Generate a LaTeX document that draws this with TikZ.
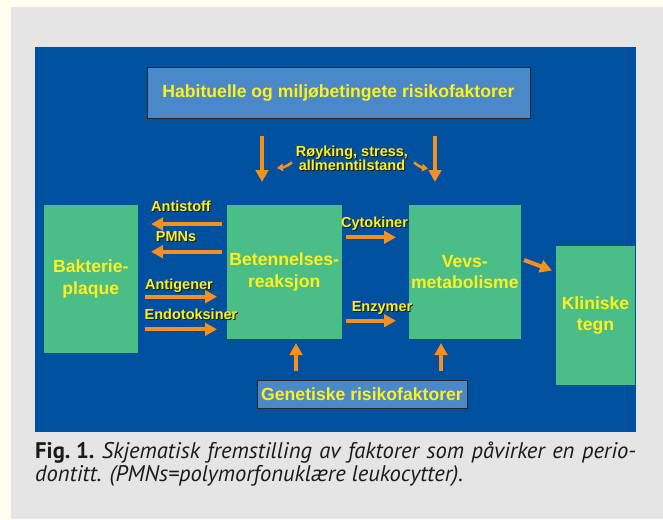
\documentclass[tikz,border=0pt]{standalone}
\usepackage{fontspec}
\setmainfont{Liberation Sans}
\newfontfamily\capfont{PT Sans}
\usetikzlibrary{arrows.meta,calc}
\definecolor{bgyel}{HTML}{FFFFF0}
\definecolor{panel}{HTML}{E5E5E5}
\definecolor{navy}{HTML}{0050A0}
\definecolor{boxgreen}{HTML}{4BBD87}
\definecolor{boxblue}{HTML}{4A88C8}
\definecolor{txtyel}{HTML}{FFF01E}
\definecolor{arrorange}{HTML}{F7901E}
\definecolor{shad}{HTML}{1A1A1A}
\definecolor{captxt}{HTML}{1A1A1A}
\newcommand\sh[1]{\makebox[0pt][l]{\hspace{1pt}\raisebox{-1pt}{\textcolor{shad}{#1}}}#1}
\begin{document}
\begin{tikzpicture}[x=1pt,y=-1pt,
  bigtxt/.style={text=txtyel, font=\fontsize{17.6}{21.6}\selectfont\bfseries, align=center},
  gbox/.style={fill=boxgreen, inner sep=0pt, outer sep=0pt, bigtxt},
  bbox/.style={fill=boxblue, draw=black!85, line width=0.8pt, inner sep=0pt, outer sep=0pt, bigtxt},
  lbl/.style={text=txtyel, font=\fontsize{14.5}{14}\selectfont\bfseries, inner sep=0pt, anchor=base, align=center},
  arr/.style={draw=arrorange, line width=4pt, -{Triangle[length=12pt,width=12.5pt]}},
  sarr/.style={draw=arrorange, line width=2.6pt, -{Triangle[length=6pt,width=7.5pt]}},
  captxtstyle/.style={anchor=base west, inner sep=0pt, text=captxt, font=\capfont\fontsize{22.6}{26}\selectfont}]
\useasboundingbox (0,0) rectangle (663,519);
\fill[bgyel] (0,0) rectangle (663,519);
\fill[panel] (11,7) rectangle (663,519);
\fill[navy] (35,47) rectangle (636,432);

% boxes
\node[bbox, minimum width=383, minimum height=51] (hab) at (338.5,92.5) {Habituelle og miljøbetingete risikofaktorer};
\node[bbox, minimum width=210, minimum height=28] (gen) at (362,394) {Genetiske risikofaktorer};
\node[gbox, minimum width=93.7, minimum height=147.7] (bak) at (90.85,278.85) {Bakterie-\\plaque};
\node[gbox, minimum width=115, minimum height=134] (bet) at (284.2,272) {Betennelses-\\reaksjon};
\node[gbox, minimum width=111.7, minimum height=133.7] (vev) at (464.85,271.85) {Vevs-\\metabolisme};
\node[gbox, minimum width=79, minimum height=139] (kli) at (595.5,315.5) {Kliniske\\tegn};

% labels
\node[lbl] (roy1) at (352,156) {\sh{Røyking, stress,}};
\node[lbl] (roy2) at (352,170) {\sh{allmenntilstand}};
\node[lbl] (anti) at (181,211.7) {\sh{Antistoff}};
\node[lbl] (pmns) at (176,241) {\sh{PMNs}};
\node[lbl] (antig) at (179,289.3) {\sh{Antigener}};
\node[lbl] (endo) at (191,319) {\sh{Endotoksiner}};
\node[lbl] (cyto) at (374.5,227.7) {\sh{Cytokiner}};
\node[lbl] (enz) at (382,311.7) {\sh{Enzymer}};

% arrow end points
\coordinate (d1s) at (262,136); \coordinate (d1e) at (262,182);
\coordinate (d2s) at (435,136); \coordinate (d2e) at (435,182);
\coordinate (s1s) at (292,162.5); \coordinate (s1e) at (277,168);
\coordinate (s2s) at (414,162.5); \coordinate (s2e) at (428,168.5);
\coordinate (a1s) at (222,224); \coordinate (a1e) at (151,224);
\coordinate (a2s) at (222,251.7); \coordinate (a2e) at (151,251.7);
\coordinate (a3s) at (145,296.7); \coordinate (a3e) at (217,296.7);
\coordinate (a4s) at (145,329.3); \coordinate (a4e) at (217,329.3);
\coordinate (c1s) at (346,237.3); \coordinate (c1e) at (396,237.3);
\coordinate (c2s) at (346,320.7); \coordinate (c2e) at (396,320.7);
\coordinate (u1s) at (296,371); \coordinate (u1e) at (296,343);
\coordinate (u2s) at (441,371); \coordinate (u2e) at (441,343);
\coordinate (ks) at (524,260); \coordinate (ke) at (552,270.5);

\draw[arr] (d1s) -- (d1e);
\draw[arr] (d2s) -- (d2e);
\draw[sarr] (s1s) to[bend left=15] (s1e);
\draw[sarr] (s2s) to[bend right=15] (s2e);
\draw[arr] (a1s) -- (a1e);
\draw[arr] (a2s) -- (a2e);
\draw[arr] (a3s) -- (a3e);
\draw[arr] (a4s) -- (a4e);
\draw[arr] (c1s) -- (c1e);
\draw[arr] (c2s) -- (c2e);
\draw[arr] (u1s) -- (u1e);
\draw[arr] (u2s) -- (u2e);
\draw[arr] (ks) -- (ke);

% caption
\node[captxtstyle] (cap1) at (35,458.3)
  {\hbox to 601pt{\mbox{\textbf{Fig.~1.}} \textit{Skjematisk fremstilling av faktorer som påvirker en perio-}}};
\node[captxtstyle] (cap2) at (35,481.7)
  {\textit{dontitt. (PMNs=polymorfonuklære leukocytter).}};
\end{tikzpicture}
\end{document}
